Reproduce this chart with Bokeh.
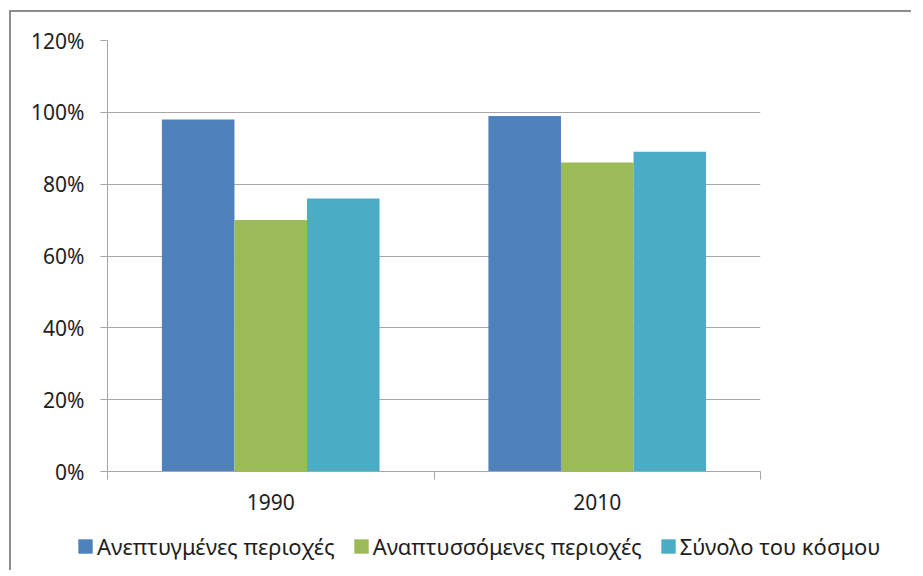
from bokeh.plotting import figure
from bokeh.layouts import column
from bokeh.models import (Range1d, FixedTicker, NumeralTickFormatter, Legend, LegendItem,
                          ColumnDataSource)
from bokeh.embed import file_html
from bokeh.resources import INLINE

years = ["1990", "2010"]
series_names = ["Ανεπτυγμένες περιοχές", "Αναπτυσσόμενες περιοχές", "Σύνολο του κόσμου"]
developed = [0.98, 0.99]
developing = [0.70, 0.86]
world = [0.76, 0.89]
colors = ["#4F81BD", "#9BBB59", "#4BACC6"]
y_ticks = [0, 0.2, 0.4, 0.6, 0.8, 1.0, 1.2]

FONT = "Noto Sans"
GRID = "#a6a6a6"
TEXT = "#1e1e1e"

W, H1, H2 = 900, 513, 45
p = figure(width=W, height=H1, output_backend="svg", toolbar_location=None,
           x_range=Range1d(0, len(years)), y_range=Range1d(0, 1.2),
           min_border_left=96, min_border_top=28, min_border_right=W - 96 - 653,
           min_border_bottom=H1 - 28 - 431)
p.background_fill_color = "white"
p.border_fill_color = "white"
p.outline_line_color = None
p.frame_align = False

bar_w = 1.0 / 4.5
series = [developed, developing, world]
sources = []
for j, vals in enumerate(series):
    xs = [i + 0.5 + (j - 1) * bar_w for i in range(len(years))]
    src = ColumnDataSource(dict(x=xs, top=vals))
    sources.append(src)
    p.vbar(x="x", top="top", bottom=0, width=bar_w, source=src,
           fill_color=colors[j], line_color=None)

# y axis
p.yaxis.ticker = FixedTicker(ticks=y_ticks)
p.yaxis.formatter = NumeralTickFormatter(format="0%")
p.yaxis.major_tick_out = 7
p.yaxis.major_tick_in = 0
p.yaxis.minor_tick_line_color = None
p.yaxis.major_tick_line_color = GRID
p.yaxis.axis_line_color = GRID
p.yaxis.major_label_text_font = FONT
p.yaxis.major_label_text_font_size = "21px"
p.yaxis.major_label_text_color = TEXT
p.yaxis.major_label_standoff = 16

# x axis: labels at category centres, ticks at category boundaries
p.xaxis.ticker = FixedTicker(ticks=[i + 0.5 for i in range(len(years))],
                             minor_ticks=list(range(len(years) + 1)))
p.xaxis.major_label_overrides = {i + 0.5: y for i, y in enumerate(years)}
p.xaxis.major_tick_line_color = None
p.xaxis.major_tick_out = 0
p.xaxis.major_tick_in = 0
p.xaxis.minor_tick_line_color = GRID
p.xaxis.minor_tick_out = 8
p.xaxis.minor_tick_in = 0
p.xaxis.axis_line_color = GRID
p.xaxis.major_label_text_font = FONT
p.xaxis.major_label_text_font_size = "21px"
p.xaxis.major_label_text_color = TEXT
p.xaxis.major_label_standoff = 14

p.xgrid.grid_line_color = None
p.ygrid.grid_line_color = GRID
p.ygrid.grid_line_width = 1

# legend strip (its bars lie outside its visible y-range; only the legend shows)
pl = figure(width=W, height=H2, output_backend="svg", toolbar_location=None,
            x_range=Range1d(0, len(years)), y_range=Range1d(5, 6),
            x_axis_type=None, y_axis_type=None, min_border=0)
pl.frame_align = False
pl.outline_line_color = None
pl.grid.grid_line_color = None
pl.background_fill_color = "white"
pl.border_fill_color = "white"
leg_renderers = []
for j, src in enumerate(sources):
    r = pl.vbar(x="x", top="top", bottom=0, width=bar_w, source=src,
                fill_color=colors[j], line_color=None)
    leg_renderers.append(r)

legend = Legend(items=[LegendItem(label=n, renderers=[r]) for n, r in zip(series_names, leg_renderers)],
                orientation="horizontal", location=(65, 9), margin=0, padding=0,
                border_line_color=None, background_fill_color=None,
                glyph_width=18, glyph_height=18, label_standoff=3, spacing=17,
                label_text_font=FONT, label_text_font_size="22px", label_text_color=TEXT)
pl.add_layout(legend, "center")

layout = column(p, pl, spacing=0,
                styles={"border-left": "2px solid #8c8c8c", "border-top": "2px solid #8c8c8c",
                        "margin-left": "9px", "margin-top": "10px"})

open("out.html", "w").write(file_html(layout, INLINE))
